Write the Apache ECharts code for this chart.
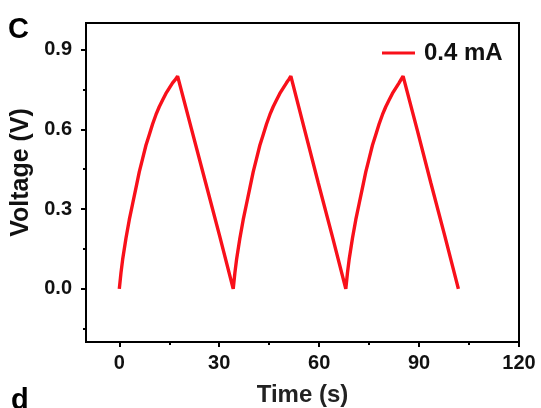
<!DOCTYPE html>
<html>
<head>
<meta charset="utf-8">
<script src="https://cdn.jsdelivr.net/npm/echarts@6/dist/echarts.min.js"></script>
<style>html,body{margin:0;padding:0;background:#fff}#c{width:541px;height:408px}</style>
</head>
<body>
<div id="c"></div>
<script>
// Data (galvanostatic charge/discharge at 0.4 mA)
const timeS = [
  0, 0.5, 1, 2, 3, 4, 5, 6, 7, 8, 9, 10, 11, 12, 13, 14, 15, 16, 17, 17.5,
  21.7, 25.9, 30.1, 34.2,
  34.7, 35.2, 36.2, 37.2, 38.2, 39.2, 40.2, 41.2, 42.2, 43.2, 44.2, 45.2, 46.2, 47.2, 48.2, 49.2, 50.2, 51.0, 51.5,
  55.6, 59.7, 63.9, 68.0,
  68.5, 69.0, 70.0, 71.0, 72.0, 73.0, 74.0, 75.0, 76.0, 77.0, 78.0, 79.0, 80.0, 81.0, 82.0, 83.0, 84.0, 84.7, 85.2,
  89.4, 93.5, 97.7, 101.8
];
const voltageV = [
  0, 0.06, 0.11, 0.19, 0.26, 0.32, 0.38, 0.44, 0.49, 0.54, 0.58, 0.62, 0.655, 0.685, 0.71, 0.735, 0.755, 0.775, 0.79, 0.80,
  0.60, 0.40, 0.20, 0.0,
  0.06, 0.11, 0.19, 0.26, 0.32, 0.38, 0.44, 0.49, 0.54, 0.58, 0.62, 0.655, 0.685, 0.71, 0.735, 0.755, 0.775, 0.79, 0.80,
  0.60, 0.40, 0.20, 0.0,
  0.06, 0.11, 0.19, 0.26, 0.32, 0.38, 0.44, 0.49, 0.54, 0.58, 0.62, 0.655, 0.685, 0.71, 0.735, 0.755, 0.775, 0.79, 0.80,
  0.60, 0.40, 0.20, 0.0
];
const xMajorTicks = [0, 30, 60, 90, 120];
const xMinorTicks = [15, 45, 75, 105];
const yMajorTicks = [0, 0.3, 0.6, 0.9];
const yMinorTicks = [-0.15, 0.15, 0.45, 0.75];
const seriesName = '0.4 mA';
const xTitle = 'Time (s)';
const yTitle = 'Voltage (V)';

const font = '"Liberation Sans", Arial, sans-serif';
const pts = timeS.map((t, i) => [t, voltageV[i]]);
const chart = echarts.init(document.getElementById('c'), null, {renderer: 'canvas'});
const X_RANGE = {min: -10, max: 120};
const Y_RANGE = {min: -0.2, max: 1.0};
function tickAxis(range, pos, values, len) {
  return Object.assign({
    type: 'value', position: pos,
    axisLine: {show: false, onZero: false}, splitLine: {show: false}, axisLabel: {show: false},
    axisTick: {show: true, inside: false, length: len, lineStyle: {color: '#000', width: 2}, customValues: values}
  }, range);
}
chart.setOption({
  animation: false,
  backgroundColor: '#fff',
  grid: {left: 86, right: 22, top: 23, bottom: 66, outerBoundsMode: 'none', containLabel: false,
    show: true, borderColor: '#000', borderWidth: 2, backgroundColor: 'transparent'},
  legend: {
    left: 382, top: 41, padding: 0, icon: 'rect', itemWidth: 33, itemHeight: 3, itemGap: 0,
    textStyle: {fontFamily: font, fontWeight: 'bold', fontSize: 24, color: '#111', padding: [0, 0, 0, 4]},
    data: [seriesName]
  },
  xAxis: [Object.assign({
    type: 'value', position: 'bottom',
    axisLine: {show: true, onZero: false, lineStyle: {color: '#000', width: 2}},
    axisTick: {show: false},
    axisLabel: {customValues: xMajorTicks, margin: 11, fontFamily: font, fontWeight: 'bold', fontSize: 20, color: '#111'},
    splitLine: {show: false},
    name: xTitle, nameLocation: 'middle', nameGap: 41,
    nameTextStyle: {fontFamily: font, fontWeight: 'bold', fontSize: 24, color: '#222'}
  }, X_RANGE),
    tickAxis(X_RANGE, 'bottom', xMajorTicks, 5),
    tickAxis(X_RANGE, 'bottom', xMinorTicks, 3)
  ],
  yAxis: [Object.assign({
    type: 'value', position: 'left',
    axisLine: {show: true, onZero: false, lineStyle: {color: '#000', width: 2}},
    axisTick: {show: false},
    axisLabel: {customValues: yMajorTicks, margin: 14, fontFamily: font, fontWeight: 'bold', fontSize: 20, color: '#111',
      formatter: v => v.toFixed(1)},
    splitLine: {show: false},
    name: yTitle, nameLocation: 'middle', nameGap: 51, nameRotate: 90,
    nameTextStyle: {fontFamily: font, fontWeight: 'bold', fontSize: 25, color: '#111', padding: [0, 0, 0, 20]}
  }, Y_RANGE),
    tickAxis(Y_RANGE, 'left', yMajorTicks, 5),
    tickAxis(Y_RANGE, 'left', yMinorTicks, 3)
  ],
  graphic: [
    {type: 'text', left: 8, top: 15, style: {text: 'C', font: 'bold 29px ' + font, fill: '#000'}},
    {type: 'text', left: 11, top: 386, style: {text: 'd', font: 'bold 29px ' + font, fill: '#000'}}
  ],
  series: [{
    name: seriesName, type: 'line', data: pts, showSymbol: false, smooth: false,
    xAxisIndex: 0, yAxisIndex: 0,
    lineStyle: {color: '#f8101a', width: 3.4}, itemStyle: {color: '#f8101a'}
  }]
});
</script>
</body>
</html>
